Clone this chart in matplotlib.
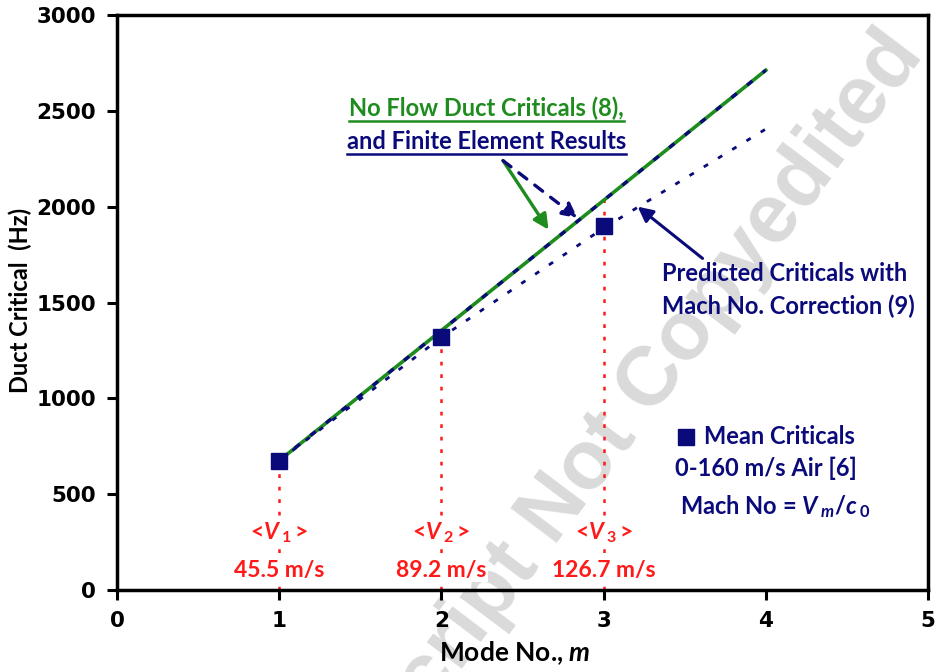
import matplotlib
matplotlib.use('Agg')
import matplotlib.pyplot as plt
import numpy as np

plt.rcParams['font.family'] = ['Lato', 'DejaVu Sans']
plt.rcParams['mathtext.fontset'] = 'custom'
plt.rcParams['mathtext.rm'] = 'Lato:bold'
plt.rcParams['mathtext.it'] = 'Lato:italic:bold'
plt.rcParams['mathtext.bf'] = 'Lato:bold'

# data
modes = [1, 2, 3, 4]
no_flow = [675, 1354, 2033, 2712]          # no flow duct criticals / FE results
predicted = [675, 1318, 1888, 2405]        # predicted with Mach no. correction
mean_modes = [1, 2, 3]
mean_crit = [673, 1318, 1897]              # mean criticals 0-160 m/s air
v_labels = [r'<$V\,_{\mathit{1}}\,$>', r'<$V\,_{\mathit{2}}\,$>', r'<$V\,_{\mathit{3}}\,$>']
v_speeds = ['45.5 m/s', '89.2 m/s', '126.7 m/s']
v_top = [673, 1318, 2033]

navy = '#0a0a7a'
green = '#1e8c1e'
red = '#ff1a1a'

fig = plt.figure(figsize=(9.39, 6.72), dpi=100)
ax = fig.add_axes([0.1246, 0.122, 0.8637, 0.8557])

# watermark, under the data
ax.text(0.985, 0.918, 'Manuscript Not Copyedited', fontsize=60, fontweight='bold',
        family='Liberation Sans', color='#dadada', rotation=53,
        ha='right', va='baseline', rotation_mode='anchor',
        transform=fig.transFigure, clip_on=False, zorder=1)

# red guide lines down to the axis
for m, top in zip(mean_modes, v_top):
    ax.plot([m, m], [0, top], color=red, lw=1.8, ls=(0, (1.5, 3.5)), zorder=2)

ax.plot(modes, no_flow, color=green, lw=2.6, zorder=3)
ax.plot(modes, no_flow, color=navy, lw=2.4, ls=(0, (2, 4)), zorder=4)
ax.plot(modes, predicted, color=navy, lw=2.0, ls=(0, (1.8, 4.2)), zorder=3)
ax.plot(mean_modes, mean_crit, 's', color=navy, ms=12, zorder=5)

# velocity labels (white box hides the guide line behind them)
for m, lab, sp in zip(mean_modes, v_labels, v_speeds):
    ax.text(m, 300, lab, color=red, fontsize=16.5, ha='center', va='center',
            fontweight='bold', bbox=dict(fc='white', ec='none', pad=1), zorder=6)
    ax.text(m, 104, sp, color=red, fontsize=16.5, ha='center', va='center',
            fontweight='bold', bbox=dict(fc='white', ec='none', pad=1), zorder=6)

ax.set_xlim(0, 5)
ax.set_ylim(0, 3000)
ax.set_xticks(range(6))
ax.set_yticks(range(0, 3001, 500))
for lab in ax.get_xticklabels() + ax.get_yticklabels():
    lab.set_family('DejaVu Sans')
    lab.set_fontweight('bold')
    lab.set_fontsize(15.5)
ax.tick_params(direction='out', length=7, width=2.2, pad=8)
for s in ax.spines.values():
    s.set_linewidth(2.5)

ax.set_xlabel(r'Mode No., $m$', fontsize=19, fontweight='bold')
ax.xaxis.set_label_coords(0.49, -0.085)
ax.set_ylabel('Duct Critical  (Hz)', fontsize=17, fontweight='bold')
ax.yaxis.set_label_coords(-0.105, 0.504)

# annotations
t1 = ax.text(2.28, 2514, 'No Flow Duct Criticals (8),', color=green, fontsize=17,
             fontweight='bold', ha='center', va='center')
t2 = ax.text(2.28, 2342, 'and Finite Element Results', color=navy, fontsize=17,
             fontweight='bold', ha='center', va='center')

ax.annotate('', xy=(2.66, 1880), xytext=(2.38, 2240),
            arrowprops=dict(arrowstyle='-|>,head_length=0.9,head_width=0.45',
                            color=green, lw=2.4, shrinkA=0, shrinkB=0))
ax.annotate('', xy=(2.84, 1940), xytext=(2.38, 2240),
            arrowprops=dict(arrowstyle='-|>,head_length=0.9,head_width=0.45',
                            color=navy, lw=2.4, ls=(0, (3, 3)), shrinkA=0, shrinkB=0))
ax.annotate('', xy=(3.21, 2000), xytext=(3.61, 1730),
            arrowprops=dict(arrowstyle='-|>,head_length=0.9,head_width=0.45',
                            color=navy, lw=2.2, shrinkA=0, shrinkB=0))

ax.text(3.36, 1650, 'Predicted Criticals with', color=navy, fontsize=17,
        fontweight='bold', ha='left', va='center')
ax.text(3.36, 1478, 'Mach No. Correction (9)', color=navy, fontsize=17,
        fontweight='bold', ha='left', va='center')

ax.plot([3.51], [800], 's', color=navy, ms=11, zorder=5)
ax.text(3.62, 800, 'Mean Criticals', color=navy, fontsize=17, fontweight='bold',
        ha='left', va='center')
ax.text(4.0, 636, '0-160 m/s Air [6]', color=navy, fontsize=17, fontweight='bold',
        ha='center', va='center')
ax.text(4.06, 438, r'Mach No = $V\,_{\mathit{m}}$/$c\,_{\mathit{0}}$', color=navy,
        fontsize=17, fontweight='bold', ha='center', va='center')

# underlines
fig.canvas.draw()
r = fig.canvas.get_renderer()
for t, c in [(t1, green), (t2, navy)]:
    bb = t.get_window_extent(renderer=r).transformed(fig.transFigure.inverted())
    fig.add_artist(plt.Line2D([bb.x0, bb.x1], [bb.y0 - 0.002, bb.y0 - 0.002],
                              color=c, lw=1.8, transform=fig.transFigure))

fig.savefig('out.png', dpi=100)
